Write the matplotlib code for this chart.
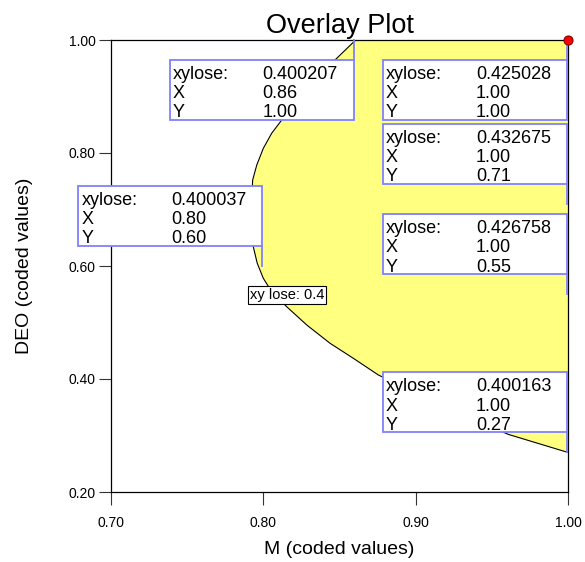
import matplotlib
matplotlib.use("Agg")
import matplotlib.pyplot as plt
import matplotlib.transforms as mtransforms
from matplotlib.patches import Rectangle

# xylose = 0.4 boundary, traced from top edge down to the right edge
contour_m = [0.8606, 0.8482, 0.8320, 0.8208, 0.8121, 0.8055, 0.8000, 0.7957,
             0.7930, 0.7919, 0.7934, 0.7960, 0.8000, 0.8055, 0.8153, 0.8285,
             0.8438, 0.8591, 0.8755, 0.9028, 0.9323, 0.9608, 1.0000]
contour_deo = [1.0000, 0.9676, 0.9292, 0.8938, 0.8584, 0.8350, 0.8083, 0.7788,
               0.7522, 0.6900, 0.6342, 0.6048, 0.5782, 0.5545, 0.5280, 0.4956,
               0.4632, 0.4366, 0.4071, 0.3717, 0.3354, 0.3020, 0.2700]
contour_level = 0.4

# flagged points: (M, DEO, xylose, box above point?)
flag_m = [0.86, 1.00, 1.00, 0.80, 1.00, 1.00]
flag_deo = [1.00, 1.00, 0.71, 0.60, 0.55, 0.27]
flag_xylose = [0.400207, 0.425028, 0.432675, 0.400037, 0.426758, 0.400163]
flag_above = [False, False, True, True, True, True]

design_m = [1.00]
design_deo = [1.00]

x_ticks = [0.70, 0.80, 0.90, 1.00]
y_ticks = [0.20, 0.40, 0.60, 0.80, 1.00]

FONT = ["Liberation Sans", "DejaVu Sans"]
NARROW = ["Liberation Sans Narrow", "Liberation Sans", "DejaVu Sans"]
YELLOW = "#ffff80"
BOX_EDGE = "#8080ff"


def add_flag(ax, x, y, value, above):
    at = mtransforms.ScaledTranslation(x, y, ax.transData)
    w, h, gap = 184, 60, 20
    bottom = gap if above else -gap - h
    ax.plot([-1, -1], [0, gap if above else -gap], color=BOX_EDGE, lw=1.3,
            transform=at, clip_on=False, zorder=6)
    ax.add_patch(Rectangle((-w - 1, bottom), w, h, transform=at, fc="white",
                           ec=BOX_EDGE, lw=1.3, clip_on=False, zorder=6))
    top = bottom + h
    rows = [("xylose:", f"{value:.6f}"), ("X", f"{x:.2f}"), ("Y", f"{y:.2f}")]
    for i, (name, val) in enumerate(rows):
        yy = top - 19 - i * 19.2
        ax.text(-w + 2, yy, name, transform=at, va="baseline", ha="left",
                fontsize=13, family=FONT, zorder=7, clip_on=False)
        ax.text(-w + 92, yy, val, transform=at, va="baseline", ha="left",
                fontsize=13, family=FONT, zorder=7, clip_on=False)


fig = plt.figure(figsize=(5.85, 5.62), dpi=100)
ax = fig.add_axes([111 / 585, 70 / 562, 457 / 585, 452 / 562])

ax.fill_betweenx(contour_deo, contour_m, 1.0, color=YELLOW, lw=0, zorder=1)
ax.plot(contour_m, contour_deo, color="black", lw=0.8, zorder=2,
        solid_joinstyle="round")

ax.text(0.8155, 0.5487, f"xy lose: {contour_level:g}", fontsize=10.5, family=FONT,
        ha="center", va="center", zorder=4,
        bbox=dict(boxstyle="square,pad=0.15", fc="white", ec="black", lw=0.8))

for x, y, v, above in zip(flag_m, flag_deo, flag_xylose, flag_above):
    add_flag(ax, x, y, v, above)

ax.plot(design_m, design_deo, "o", color="red", mec="#800000", mew=0.8, ms=6.5,
        clip_on=False, zorder=10)

ax.set_xlim(0.70, 1.00)
ax.set_ylim(0.20, 1.00)
ax.set_xticks(x_ticks)
ax.set_yticks(y_ticks)
ax.set_xticklabels([f"{t:.2f}" for t in x_ticks], family=NARROW, fontsize=10)
ax.set_yticklabels([f"{t:.2f}" for t in y_ticks], family=NARROW, fontsize=10)
ax.tick_params(direction="out", length=9, width=0.8, color="#333333")
ax.tick_params(axis="x", pad=8)
ax.tick_params(axis="y", pad=2)
for s in ax.spines.values():
    s.set_linewidth(0.9)
    s.set_zorder(3)

ax.set_title("Overlay Plot", fontsize=19.5, family=FONT, pad=5)
ax.set_xlabel("M (coded values)", fontsize=14, family=FONT)
ax.set_ylabel("DEO (coded values)", fontsize=14, family=FONT)
ax.xaxis.set_label_coords(0.5, -0.108)
ax.yaxis.set_label_coords(-0.171, 0.5)

fig.savefig("out.png", dpi=100)
